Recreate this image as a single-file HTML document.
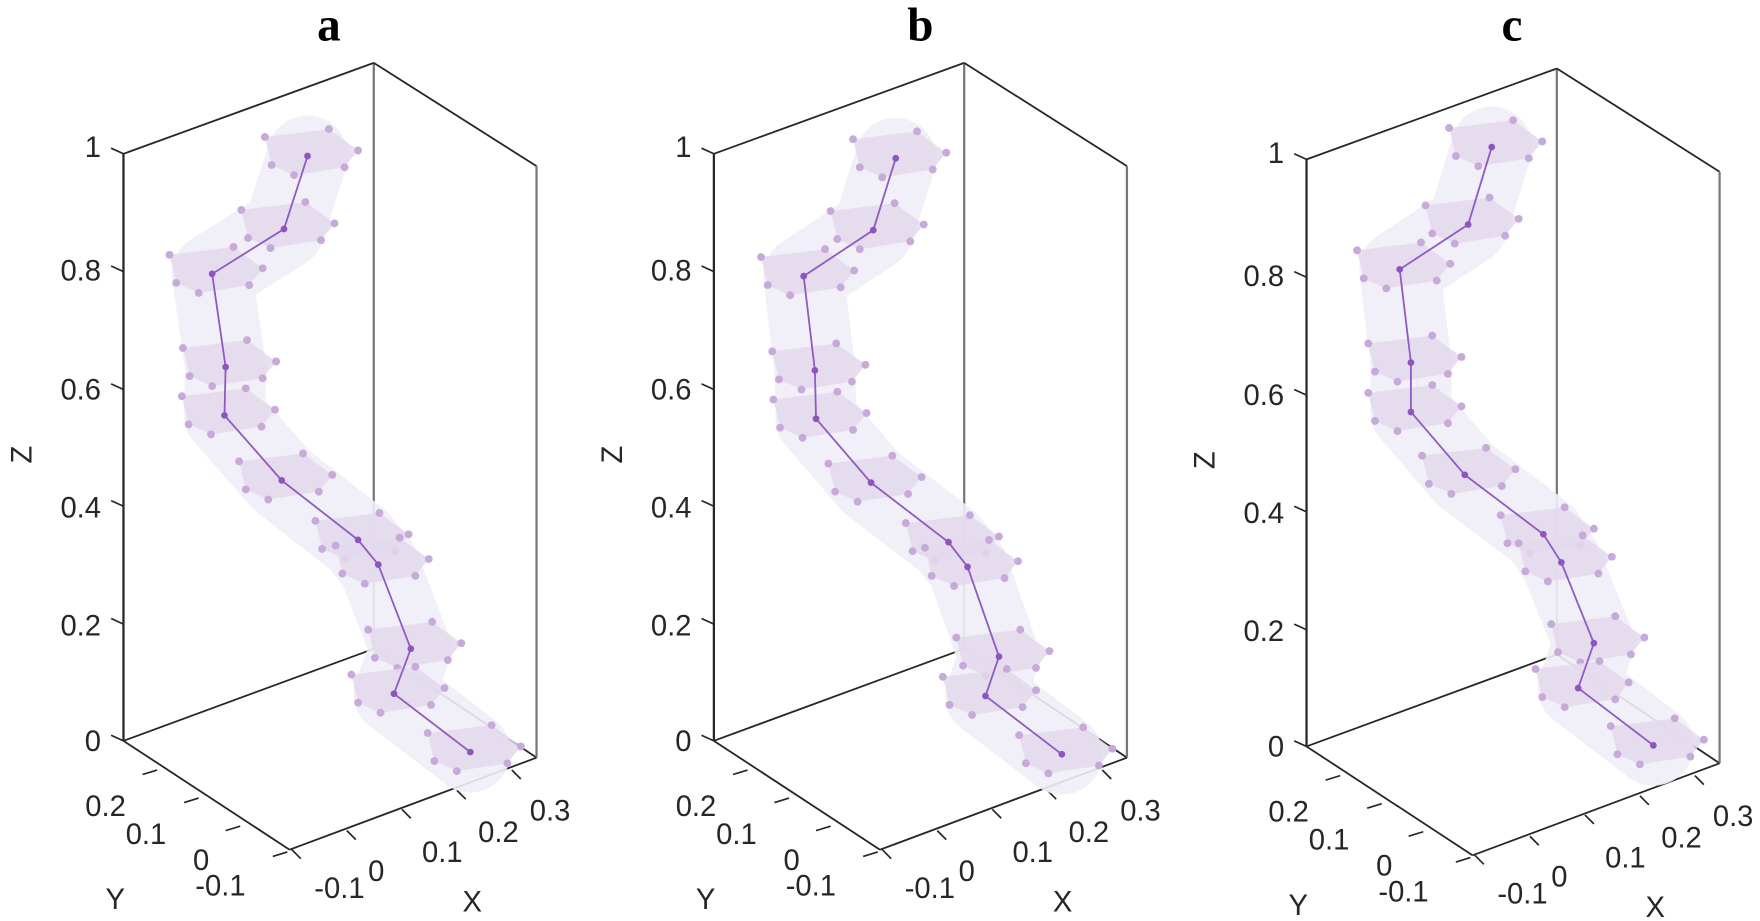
<!DOCTYPE html>
<html><head><meta charset="utf-8"><style>
html,body{margin:0;padding:0;background:#fff;}
svg{display:block;}
text{font-family:"Liberation Sans",sans-serif;fill:#262626;font-size:26px;}
.t{font-family:"Liberation Serif",serif;font-weight:bold;font-size:42px;fill:#000;}
</style></head><body>
<svg width="1760" height="921" viewBox="0 0 1568 820.5" xmlns="http://www.w3.org/2000/svg">
<defs>
<g id="ax">
  <line x1="333" y1="56" x2="333" y2="578" stroke="#777" stroke-width="2"/>
  <line x1="333" y1="56" x2="110" y2="137" stroke="#262626" stroke-width="1.6"/>
  <line x1="333" y1="56" x2="478" y2="148" stroke="#262626" stroke-width="1.6"/>
  <line x1="333" y1="578" x2="110" y2="660" stroke="#262626" stroke-width="1.6"/>
  <line x1="333" y1="578" x2="478" y2="675" stroke="#262626" stroke-width="1.6"/>
  <line x1="478" y1="148" x2="478" y2="675" stroke="#777" stroke-width="2"/>
  <line x1="110" y1="137" x2="110" y2="660" stroke="#262626" stroke-width="2"/>
  <line x1="110" y1="660" x2="258" y2="757" stroke="#262626" stroke-width="1.6"/>
  <line x1="258" y1="757" x2="478" y2="675" stroke="#262626" stroke-width="1.6"/>
  <g stroke="#262626" stroke-width="1.5">
    <line x1="110" y1="137" x2="99" y2="132"/><line x1="110" y1="242" x2="99" y2="237"/>
    <line x1="110" y1="347" x2="99" y2="342"/><line x1="110" y1="451" x2="99" y2="446"/>
    <line x1="110" y1="556" x2="99" y2="551"/><line x1="110" y1="660" x2="99" y2="655"/>
    <line x1="140" y1="686" x2="127" y2="690"/><line x1="177" y1="711" x2="164" y2="715"/>
    <line x1="214" y1="736" x2="201" y2="740"/><line x1="256" y1="759" x2="243" y2="763"/>
    <line x1="260" y1="757" x2="268" y2="765"/><line x1="309" y1="740" x2="317" y2="748"/>
    <line x1="358" y1="721" x2="366" y2="729"/><line x1="407" y1="704" x2="415" y2="712"/>
    <line x1="456" y1="686" x2="464" y2="694"/>
  </g>
  <g text-anchor="end">
    <text x="90" y="140">1</text><text x="90" y="250">0.8</text><text x="90" y="356">0.6</text>
    <text x="90" y="461">0.4</text><text x="90" y="566">0.2</text><text x="90" y="669">0</text>
  </g>
  <text x="76" y="727">0.2</text><text x="112" y="752">0.1</text><text x="172" y="775">0</text><text x="174" y="798">-0.1</text>
  <text x="280" y="800">-0.1</text><text x="328" y="785">0</text><text x="376" y="768">0.1</text><text x="426" y="750">0.2</text><text x="472" y="731">0.3</text>
  <text x="28" y="405" transform="rotate(-90 28 405)" text-anchor="middle">Z</text>
  <text x="94" y="810">Y</text><text x="412" y="812">X</text>
</g>
<g id="h">
  <polygon points="-38,-17 19,-24 45,-5 33,10 -12,17 -32,8" fill="#e3d9ec" fill-opacity="0.85"/>
  <g fill="#c7a9da">
    <circle cx="-38" cy="-17" r="3.5"/><circle cx="19" cy="-24" r="3.5"/><circle cx="45" cy="-5" r="3.5"/>
    <circle cx="33" cy="10" r="3.5"/><circle cx="-12" cy="17" r="3.5"/><circle cx="-32" cy="8" r="3.5"/>
  </g>
</g>
</defs>

<text class="t" x="293" y="36" text-anchor="middle">a</text>
<text class="t" x="820" y="36" text-anchor="middle">b</text>
<text class="t" x="1347" y="36" text-anchor="middle">c</text>

<use href="#ax"/>
<use href="#ax" transform="translate(526,0)"/>
<use href="#ax" transform="translate(1054,5)"/>

<!-- series a -->
<polyline points="274,139 253,204 189,244 201,327 200,370 251,428 319,481 337,503 366,578 351,618 419,670" fill="none" stroke="#efedf6" stroke-width="72" stroke-linejoin="round" stroke-linecap="round" opacity="0.9"/>
<use href="#h" x="274" y="139"/><use href="#h" x="253" y="204"/><use href="#h" x="189" y="244"/>
<use href="#h" x="201" y="327"/><use href="#h" x="200" y="370"/><use href="#h" x="251" y="428"/>
<use href="#h" x="319" y="481"/><use href="#h" x="337" y="503"/><use href="#h" x="366" y="578"/>
<use href="#h" x="351" y="618"/><use href="#h" x="419" y="670"/>
<polyline points="274,139 253,204 189,244 201,327 200,370 251,428 319,481 337,503 366,578 351,618 419,670" fill="none" stroke="#9059c4" stroke-width="1.6"/>
<g fill="#8e55c2"><circle cx="274" cy="139" r="3"/><circle cx="253" cy="204" r="3"/><circle cx="189" cy="244" r="3"/><circle cx="201" cy="327" r="3"/><circle cx="200" cy="370" r="3"/><circle cx="251" cy="428" r="3"/><circle cx="319" cy="481" r="3"/><circle cx="337" cy="503" r="3"/><circle cx="366" cy="578" r="3"/><circle cx="351" cy="618" r="3"/><circle cx="419" cy="670" r="3"/></g>

<!-- series b -->
<polyline points="798,141 778,205 716,246 726,330 727,373 776,430 845,483 862,505 890,585 878,620 946,672" fill="none" stroke="#efedf6" stroke-width="72" stroke-linejoin="round" stroke-linecap="round" opacity="0.9"/>
<use href="#h" x="798" y="141"/><use href="#h" x="778" y="205"/><use href="#h" x="716" y="246"/>
<use href="#h" x="726" y="330"/><use href="#h" x="727" y="373"/><use href="#h" x="776" y="430"/>
<use href="#h" x="845" y="483"/><use href="#h" x="862" y="505"/><use href="#h" x="890" y="585"/>
<use href="#h" x="878" y="620"/><use href="#h" x="946" y="672"/>
<polyline points="798,141 778,205 716,246 726,330 727,373 776,430 845,483 862,505 890,585 878,620 946,672" fill="none" stroke="#9059c4" stroke-width="1.6"/>
<g fill="#8e55c2"><circle cx="798" cy="141" r="3"/><circle cx="778" cy="205" r="3"/><circle cx="716" cy="246" r="3"/><circle cx="726" cy="330" r="3"/><circle cx="727" cy="373" r="3"/><circle cx="776" cy="430" r="3"/><circle cx="845" cy="483" r="3"/><circle cx="862" cy="505" r="3"/><circle cx="890" cy="585" r="3"/><circle cx="878" cy="620" r="3"/><circle cx="946" cy="672" r="3"/></g>

<!-- series c -->
<polyline points="1329,131 1308,200 1247,240 1257,323 1257,367 1305,423 1375,476 1391,501 1420,573 1406,613 1473,664" fill="none" stroke="#efedf6" stroke-width="72" stroke-linejoin="round" stroke-linecap="round" opacity="0.9"/>
<use href="#h" x="1329" y="131"/><use href="#h" x="1308" y="200"/><use href="#h" x="1247" y="240"/>
<use href="#h" x="1257" y="323"/><use href="#h" x="1257" y="367"/><use href="#h" x="1305" y="423"/>
<use href="#h" x="1375" y="476"/><use href="#h" x="1391" y="501"/><use href="#h" x="1420" y="573"/>
<use href="#h" x="1406" y="613"/><use href="#h" x="1473" y="664"/>
<polyline points="1329,131 1308,200 1247,240 1257,323 1257,367 1305,423 1375,476 1391,501 1420,573 1406,613 1473,664" fill="none" stroke="#9059c4" stroke-width="1.6"/>
<g fill="#8e55c2"><circle cx="1329" cy="131" r="3"/><circle cx="1308" cy="200" r="3"/><circle cx="1247" cy="240" r="3"/><circle cx="1257" cy="323" r="3"/><circle cx="1257" cy="367" r="3"/><circle cx="1305" cy="423" r="3"/><circle cx="1375" cy="476" r="3"/><circle cx="1391" cy="501" r="3"/><circle cx="1420" cy="573" r="3"/><circle cx="1406" cy="613" r="3"/><circle cx="1473" cy="664" r="3"/></g>
</svg>
</body></html>
